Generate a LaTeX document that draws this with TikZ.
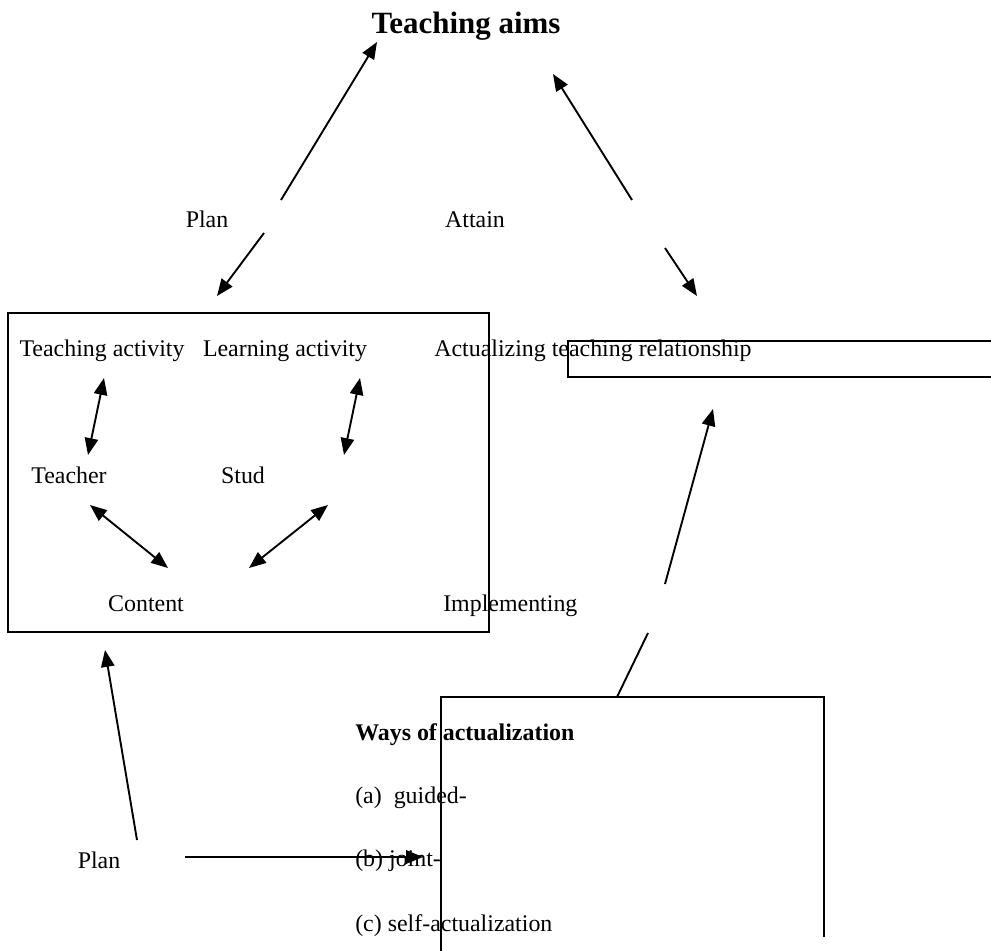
\documentclass[tikz,border=0pt]{standalone}
\usepackage{fontspec}
\setmainfont{Liberation Serif}
\usetikzlibrary{arrows.meta}
\tikzset{
    lbl/.style={anchor=base, inner sep=0pt, font=\fontsize{17}{20}\selectfont},
    lblw/.style={lbl, anchor=base west},
    arr/.style={-{Triangle[length=12pt,width=9.5pt]}, line width=1.35pt},
    darr/.style={{Triangle[length=12pt,width=9.5pt]}-{Triangle[length=12pt,width=9.5pt]}, line width=1.35pt},
    frame/.style={line width=1.4pt}
}

\begin{document}
\begin{tikzpicture}[x=0.025cm, y=-0.025cm]
        \useasboundingbox (0, 0) rectangle (991, 951);

        \node[lbl, font=\fontsize{22}{26}\selectfont\bfseries] (aims) at (466, 34) {Teaching aims};
        \node[lbl] (planTop) at (207, 228) {Plan};
        \node[lbl] (attain) at (475, 228) {Attain};

        \coordinate (p1) at (281, 200);  \coordinate (p1t) at (377, 42);
        \coordinate (p2) at (264, 233);  \coordinate (p2t) at (217, 296);
        \coordinate (a1) at (632, 200);  \coordinate (a1t) at (553, 74);
        \coordinate (a2) at (665, 248);  \coordinate (a2t) at (697, 296);
        \draw[arr] (p1) -- (p1t);
        \draw[arr] (p2) -- (p2t);
        \draw[arr] (a1) -- (a1t);
        \draw[arr] (a2) -- (a2t);

        % left box
        \draw[frame] (8, 313) rectangle (489, 632);
        \node[lbl] (tact) at (102, 356) {Teaching activity};
        \node[lbl] (lact) at (285, 356) {Learning activity};
        \node[lblw] (actual) at (434, 356) {Actualizing teaching relationship};
        \node[lbl] (teacher) at (69, 483) {Teacher};
        \node[lbl] (stud) at (243, 483) {Stud};
        \node[lbl] (content) at (146, 611) {Content};
        \node[lblw] (impl) at (443, 611) {Implementing};

        \coordinate (ta1) at (104, 378);  \coordinate (ta2) at (88, 455);
        \coordinate (la1) at (360, 378);  \coordinate (la2) at (344, 455);
        \coordinate (tc1) at (90, 505);   \coordinate (tc2) at (168, 568);
        \coordinate (sc1) at (328, 505);  \coordinate (sc2) at (249, 568);
        \draw[darr] (ta1) -- (ta2);
        \draw[darr] (la1) -- (la2);
        \draw[darr] (tc1) -- (tc2);
        \draw[darr] (sc1) -- (sc2);

        % right box, cut at the edge
        \draw[frame] (991, 341) -- (568, 341) -- (568, 377) -- (991, 377);

        \coordinate (i1) at (665, 584);  \coordinate (i1t) at (713, 409);
        \coordinate (i2) at (648, 633);  \coordinate (i2t) at (617, 697);
        \draw[arr] (i1) -- (i1t);
        \draw[line width=1.35pt] (i2) -- (i2t);

        % bottom box, open below
        \draw[frame] (441, 951) -- (441, 697) -- (824, 697) -- (824, 937);
        \node[lblw, font=\fontsize{17}{20}\selectfont\bfseries] (ways) at (355, 740) {Ways of actualization};
        \node[lblw] (wa) at (355, 803) {(a)\ \ guided-};
        \node[lblw] (wb) at (355, 866) {(b) joint-};
        \node[lblw] (wc) at (355, 931) {(c) self-actualization};

        \node[lbl] (planBot) at (99, 868) {Plan};
        \coordinate (b1) at (137, 840);  \coordinate (b1t) at (105, 650);
        \coordinate (b2) at (185, 857);  \coordinate (b2t) at (423, 857);
        \draw[arr] (b1) -- (b1t);
        \draw[arr] (b2) -- (b2t);
    \end{tikzpicture}
\end{document}
